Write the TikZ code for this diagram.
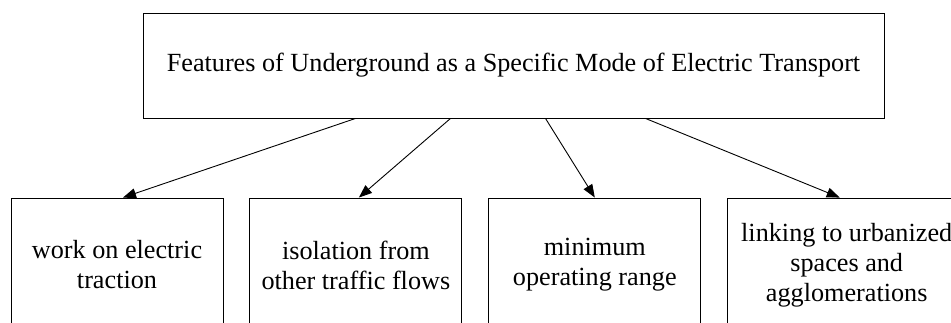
\documentclass[tikz,border=0pt]{standalone}
\usepackage{fontspec}
\setmainfont{Liberation Serif}
\usepackage{tikz}
\usetikzlibrary{shapes,arrows.meta,positioning}
\tikzset{main box/.style={rectangle,draw,line width=0.9pt,minimum width=741pt,minimum height=105pt,inner sep=0pt,font=\fontsize{26.2}{30}\selectfont},}
\tikzset{feat box/.style={rectangle,draw,line width=0.9pt,minimum width=212pt,minimum height=134pt,inner sep=0pt,align=center,font=\fontsize{26.2}{30}\selectfont},}
\tikzstyle{arrow} = [line width=0.9pt,-{Triangle[length=13pt,width=10pt]}]

\begin{document}
\begin{tikzpicture}[x=1pt,y=1pt]
    \useasboundingbox (0,0) rectangle (951,323);
    \clip (0,0) rectangle (951,323);

    \node[main box] (title) at (513.5,257.5) {Features of Underground as a Specific Mode of Electric Transport};
    \node[feat box] (work) at (117,58) {work on electric\\traction};
    \node[feat box] (isol)[right=26pt of work] {isolation from\\other traffic flows};
    \node[feat box] (range)[right=26pt of isol] {minimum\\operating range};
    \node[feat box,minimum width=238pt] (link)[right=26pt of range] {linking to urbanized\\spaces and\\agglomerations};

   	\draw [arrow] ([xshift=-158pt]title.south) -- ([xshift=6pt]work.north);
   	\draw [arrow] ([xshift=-63pt]title.south) -- ([xshift=3pt]isol.north);
   	\draw [arrow] ([xshift=32pt]title.south) -- (range.north);
   	\draw [arrow] ([xshift=132pt]title.south) -- ([xshift=-7pt]link.north);

\end{tikzpicture}
\end{document}
